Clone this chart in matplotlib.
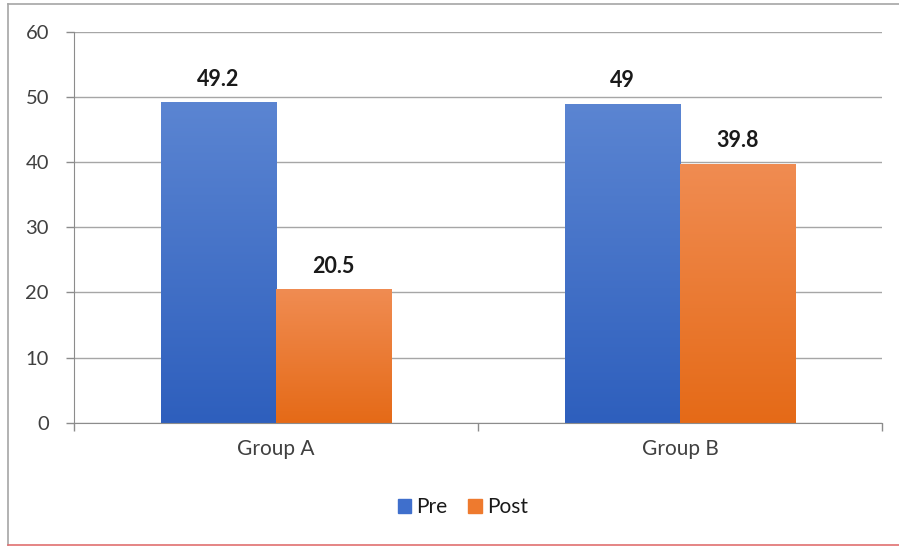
import numpy as np
import matplotlib.pyplot as plt
from matplotlib.lines import Line2D

categories = ['Group A', 'Group B']
series = ['Pre', 'Post']
pre = [49.2, 49]
post = [20.5, 39.8]
labels_pre = ['49.2', '49']
labels_post = ['20.5', '39.8']
yticks = [0, 10, 20, 30, 40, 50, 60]

plt.rcParams['font.family'] = ['Lato', 'DejaVu Sans']

W, H = 899, 546
fig = plt.figure(figsize=(W / 100, H / 100), dpi=100)
ax = fig.add_axes([74 / W, 1 - 422.7 / H, (882 - 74) / W, (422.7 - 32) / H])

# outer frame of the chart area
fig.add_artist(Line2D([8 / W, 8 / W], [1 - 4 / H, 1 - 545 / H], transform=fig.transFigure, color='#a6a6a6', lw=1.2))
fig.add_artist(Line2D([8 / W, 1], [1 - 4 / H, 1 - 4 / H], transform=fig.transFigure, color='#a6a6a6', lw=1.2))
fig.add_artist(Line2D([8 / W, 1], [1 - 545 / H, 1 - 545 / H], transform=fig.transFigure, color='#e07070', lw=1.2))

x = np.arange(len(categories))
w = 0.285

def gradient_bars(bars, top_col, bot_col):
    top = np.array(plt.matplotlib.colors.to_rgb(top_col))
    bot = np.array(plt.matplotlib.colors.to_rgb(bot_col))
    grad = np.linspace(0, 1, 256)[:, None]
    img = bot[None, None, :] * (1 - grad[..., None]) + top[None, None, :] * grad[..., None]
    for b in bars:
        x0, y0 = b.get_x(), b.get_y()
        x1, y1 = x0 + b.get_width(), y0 + b.get_height()
        im = ax.imshow(img, extent=(x0, x1, y0, y1), origin='lower', aspect='auto', zorder=2)
        im.set_clip_path(b)
        b.set_facecolor('none')

b1 = ax.bar(x - w / 2, pre, w, color='#4472c4', zorder=2, label='Pre')
b2 = ax.bar(x + w / 2, post, w, color='#ed7d31', zorder=2, label='Post')
gradient_bars(b1, '#5b85d2', '#2e5fbd')
gradient_bars(b2, '#f08c52', '#e56a17')

for bars, labs in ((b1, labels_pre), (b2, labels_post)):
    for b, t in zip(bars, labs):
        ax.annotate(t, (b.get_x() + b.get_width() / 2, b.get_height()), xytext=(0, 9),
                    textcoords='offset points', ha='center', va='bottom',
                    fontsize=15.5, fontweight='bold', color='#1a1a1a')

ax.set_xlim(-0.5, 1.5)
ax.set_ylim(0, 60)
ax.set_yticks(yticks)
ax.set_yticklabels([str(v) for v in yticks], fontsize=14.5, color='#404040')
ax.set_xticks(x)
ax.set_xticklabels(categories, fontsize=15, color='#404040')
ax.tick_params(axis='x', length=0, pad=12)
ax.tick_params(axis='y', length=6, color='#8c8c8c', width=1, pad=12)
ax.set_xticks([-0.5, 0.5, 1.5], minor=True)
ax.tick_params(axis='x', which='minor', length=6, color='#8c8c8c', width=1)

ax.grid(axis='y', color='#a6a6a6', lw=1, zorder=0)
ax.set_axisbelow(True)
for s in ['top', 'right']:
    ax.spines[s].set_visible(False)
ax.spines['left'].set_color('#8c8c8c')
ax.spines['bottom'].set_color('#8c8c8c')

handles = [plt.Rectangle((0, 0), 1, 1, color='#3f6fcc'), plt.Rectangle((0, 0), 1, 1, color='#ee7a2e')]
fig.legend(handles, series, loc='center', bbox_to_anchor=(463 / W, 1 - 507 / H), ncol=2,
           frameon=False, fontsize=15, handlelength=0.65, handleheight=0.65,
           handletextpad=0.25, columnspacing=1.0, labelcolor='#1a1a1a')

fig.savefig('out.png', dpi=100)
